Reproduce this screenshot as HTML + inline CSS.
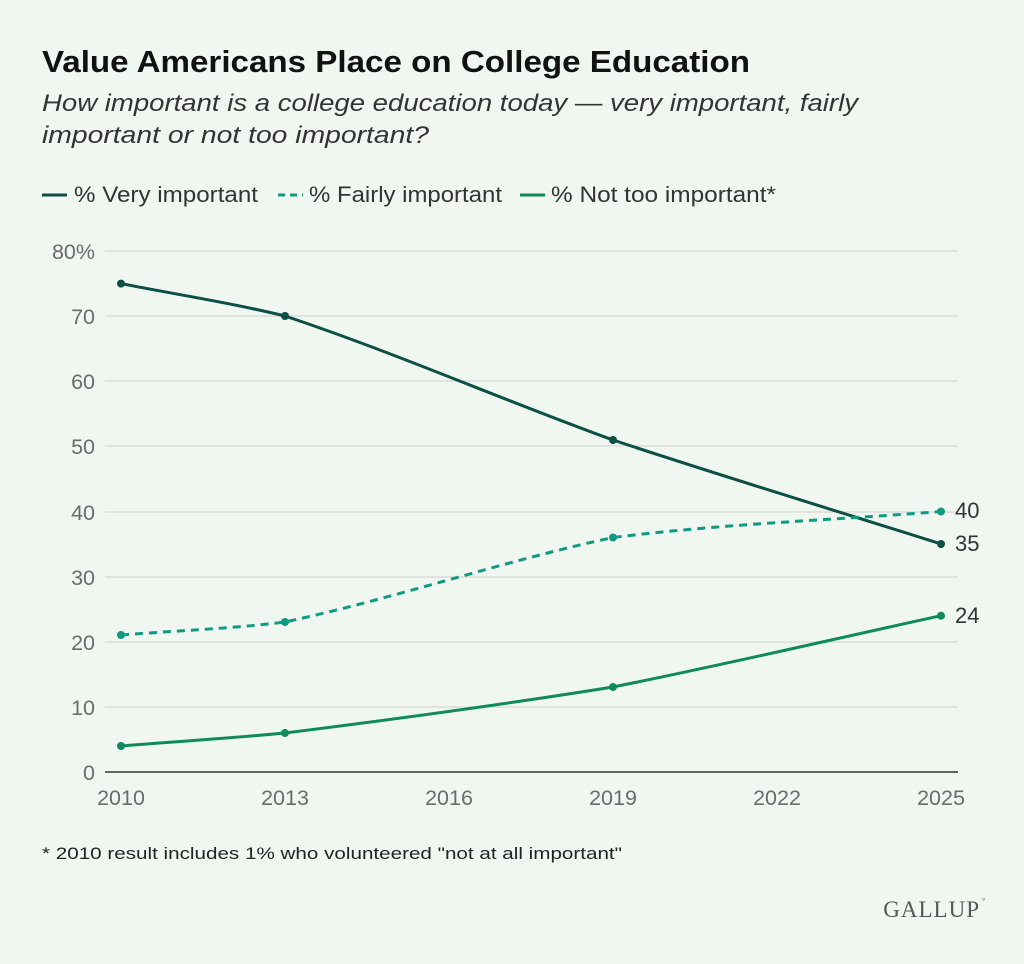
<!DOCTYPE html>
<html><head><meta charset="utf-8"><style>
body{margin:0;background:#f0f7f0;}
svg{display:block;font-family:"Liberation Sans",sans-serif;}
</style></head><body>
<svg width="1024" height="964" viewBox="0 0 1024 964">
<rect width="1024" height="964" fill="#f0f7f0"/>
<text x="42" y="72" font-size="31" font-weight="bold" fill="#111" textLength="708" lengthAdjust="spacingAndGlyphs">Value Americans Place on College Education</text>
<text x="42" y="111" font-size="24" font-style="italic" fill="#333" textLength="816" lengthAdjust="spacingAndGlyphs">How important is a college education today — very important, fairly</text>
<text x="42" y="143" font-size="24" font-style="italic" fill="#333" textLength="387" lengthAdjust="spacingAndGlyphs">important or not too important?</text>
<g font-size="22" fill="#333">
<line x1="42" y1="195" x2="67" y2="195" stroke="#0b4f45" stroke-width="3"/>
<text x="74" y="202" textLength="184" lengthAdjust="spacingAndGlyphs">% Very important</text>
<line x1="278" y1="195" x2="303" y2="195" stroke="#119a82" stroke-width="3" stroke-dasharray="7,5"/>
<text x="309" y="202" textLength="193" lengthAdjust="spacingAndGlyphs">% Fairly important</text>
<line x1="520" y1="195" x2="545" y2="195" stroke="#0f8a5c" stroke-width="3"/>
<text x="551" y="202" textLength="225" lengthAdjust="spacingAndGlyphs">% Not too important*</text>
</g>
<g stroke="#d9ddd8" stroke-width="1.5">
<line x1="105" y1="251" x2="958" y2="251"/><line x1="105" y1="316" x2="958" y2="316"/>
<line x1="105" y1="381" x2="958" y2="381"/><line x1="105" y1="446" x2="958" y2="446"/>
<line x1="105" y1="512" x2="958" y2="512"/><line x1="105" y1="577" x2="958" y2="577"/>
<line x1="105" y1="642" x2="958" y2="642"/><line x1="105" y1="707" x2="958" y2="707"/>
</g>
<line x1="105" y1="772" x2="958" y2="772" stroke="#333" stroke-width="1.5"/>
<g font-size="21.5" fill="#6b6b6b" text-anchor="end">
<text x="95" y="259">80%</text><text x="95" y="324">70</text><text x="95" y="389">60</text>
<text x="95" y="454">50</text><text x="95" y="520">40</text><text x="95" y="585">30</text>
<text x="95" y="650">20</text><text x="95" y="715">10</text><text x="95" y="780">0</text>
</g>
<g font-size="21.5" fill="#6b6b6b" text-anchor="middle">
<text x="121" y="805">2010</text><text x="285" y="805">2013</text><text x="449" y="805">2016</text>
<text x="613" y="805">2019</text><text x="777" y="805">2022</text><text x="941" y="805">2025</text>
</g>
<g fill="none" stroke-width="3">
<path d="M121,283.6 C175.7,294.4 230.3,302.7 285,316 C394.3,352.4 503.7,400.4 613,440 C722.3,476.3 831.7,509.3 941,544" stroke="#0b4f45"/>
<path d="M121,635 C175.7,630.7 230.3,628.8 285,622 C394.3,598.6 503.7,560.9 613,537.5 C722.3,523.9 831.7,520.1 941,511.5" stroke="#119a82" stroke-dasharray="8,6"/>
<path d="M121,746 C175.7,741.7 230.3,738.2 285,733 C394.3,719.3 503.7,704.5 613,687 C722.3,665.2 831.7,639.5 941,615.7" stroke="#0f8a5c"/>
</g>
<g fill="#0b4f45"><circle cx="121" cy="283.6" r="4"/><circle cx="285" cy="316" r="4"/><circle cx="613" cy="440" r="4"/><circle cx="941" cy="544" r="4"/></g>
<g fill="#119a82"><circle cx="121" cy="635" r="4"/><circle cx="285" cy="622" r="4"/><circle cx="613" cy="537.5" r="4"/><circle cx="941" cy="511.5" r="4"/></g>
<g fill="#0f8a5c"><circle cx="121" cy="746" r="4"/><circle cx="285" cy="733" r="4"/><circle cx="613" cy="687" r="4"/><circle cx="941" cy="615.7" r="4"/></g>
<g font-size="22" fill="#333">
<text x="955" y="518">40</text><text x="955" y="551">35</text><text x="955" y="623">24</text>
</g>
<text x="42" y="859" font-size="17" fill="#222" textLength="580" lengthAdjust="spacingAndGlyphs">* 2010 result includes 1% who volunteered "not at all important"</text>
<text x="980" y="917" font-size="23" font-family="Liberation Serif,serif" fill="#555" text-anchor="end" letter-spacing="1">GALLUP</text>
<text x="982" y="904" font-size="8" fill="#555">°</text>
</svg>
</body></html>
